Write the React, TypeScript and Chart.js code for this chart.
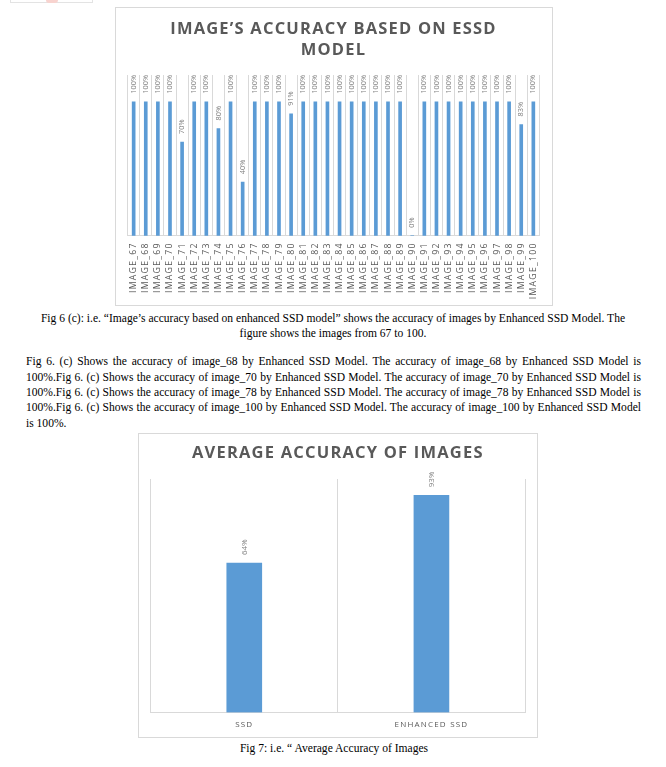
import React, { useEffect, useRef } from "react";
import { Chart, registerables } from "chart.js";

Chart.register(...registerables);

// ---------- DATA ----------
const imageLabels = [
  "IMAGE_67", "IMAGE_68", "IMAGE_69", "IMAGE_70", "IMAGE_71", "IMAGE_72", "IMAGE_73",
  "IMAGE_74", "IMAGE_75", "IMAGE_76", "IMAGE_77", "IMAGE_78", "IMAGE_79", "IMAGE_80",
  "IMAGE_81", "IMAGE_82", "IMAGE_83", "IMAGE_84", "IMAGE_85", "IMAGE_86", "IMAGE_87",
  "IMAGE_88", "IMAGE_89", "IMAGE_90", "IMAGE_91", "IMAGE_92", "IMAGE_93", "IMAGE_94",
  "IMAGE_95", "IMAGE_96", "IMAGE_97", "IMAGE_98", "IMAGE_99", "IMAGE_100",
];
const essdAccuracy = [
  1, 1, 1, 1, 0.7, 1, 1,
  0.8, 1, 0.4, 1, 1, 1, 0.91,
  1, 1, 1, 1, 1, 1, 1,
  1, 1, 0, 1, 1, 1, 1,
  1, 1, 1, 1, 0.83, 1,
];
const chart1Title = ["IMAGE\u2019S ACCURACY BASED ON ESSD", "MODEL"];

const avgLabels = ["SSD", "ENHANCED SSD"];
const avgAccuracy = [0.64, 0.93];
const chart2Title = "AVERAGE ACCURACY OF IMAGES";

const caption1 = [
  "Fig 6 (c): i.e. \u201CImage\u2019s accuracy based on enhanced SSD model\u201D shows the accuracy of images by Enhanced SSD Model. The",
  "figure shows the images from 67 to 100.",
];
const paragraphLines = [
  "Fig 6. (c) Shows the accuracy of image_68 by Enhanced SSD Model. The accuracy of image_68 by Enhanced SSD Model is",
  "100%.Fig 6. (c) Shows the accuracy of image_70 by Enhanced SSD Model. The accuracy of image_70 by Enhanced SSD Model is",
  "100%.Fig 6. (c) Shows the accuracy of image_78 by Enhanced SSD Model. The accuracy of image_78 by Enhanced SSD Model is",
  "100%.Fig 6. (c) Shows the accuracy of image_100 by Enhanced SSD Model. The accuracy of image_100 by Enhanced SSD Model",
  "is 100%.",
];
const caption2 = "Fig 7: i.e. \u201C Average Accuracy of Images";

// ---------- STYLE ----------
const BAR = "#5b9bd5";
const GRID = "#d9d9d9";
const TEXT = "#595959";
const LABEL = "#808080";
const SQUEEZE = 0.963;

function spacingPlugin(spacing: string) {
  return {
    id: "spacing",
    beforeUpdate(chart: any) {
      chart.ctx.letterSpacing = spacing;
    },
    beforeDraw(chart: any) {
      chart.ctx.letterSpacing = spacing;
    },
  };
}

function valueLabelPlugin(fontSize: number, gap: number) {
  return {
    id: "valueLabels",
    afterDatasetsDraw(chart: any) {
      const ctx = chart.ctx;
      const meta = chart.getDatasetMeta(0);
      const data = chart.data.datasets[0].data;
      ctx.save();
      ctx.letterSpacing = "0px";
      ctx.font = `${fontSize}px "Open Sans"`;
      ctx.fillStyle = LABEL;
      ctx.textAlign = "left";
      ctx.textBaseline = "middle";
      meta.data.forEach((bar: any, i: number) => {
        const txt = Math.round(data[i] * 100) + "%";
        ctx.save();
        ctx.translate(bar.x, bar.y - gap);
        ctx.rotate(-Math.PI / 2);
        ctx.fillText(txt, 0, 0);
        ctx.restore();
      });
      ctx.restore();
    },
  };
}

function ChartOne() {
  const ref = useRef<HTMLCanvasElement>(null);
  useEffect(() => {
    const chart = new Chart(ref.current!, {
      type: "bar",
      data: {
        labels: imageLabels,
        datasets: [{ data: essdAccuracy, backgroundColor: BAR, barThickness: 3 }],
      },
      options: {
        animation: false,
        responsive: false,
        devicePixelRatio: 1,
        layout: { padding: { left: 11.6, right: 12.6, top: 0, bottom: 0 } },
        plugins: {
          legend: { display: false },
          tooltip: { enabled: false },
          title: {
            display: true,
            text: chart1Title,
            color: TEXT,
            font: { family: "Open Sans", size: 16.5, weight: "bold", lineHeight: 1.315 },
            padding: { top: 10.15, bottom: 13.45 },
          },
        },
        scales: {
          x: {
            grid: { color: GRID, drawTicks: false, offset: true },
            border: { color: GRID },
            ticks: {
              color: TEXT,
              font: { family: "Open Sans", size: 8.8 },
              minRotation: 90,
              maxRotation: 90,
              autoSkip: false,
              padding: 6.5,
            },
            afterFit: (s: any) => {
              s.height = 69.3;
            },
          },
          y: { display: false, min: 0, max: 1.2 },
        },
      },
      plugins: [spacingPlugin("1.2px"), valueLabelPlugin(7.4, 8)],
    } as any);
    return () => chart.destroy();
  }, []);
  return <canvas ref={ref} width={436} height={297} style={{ display: "block" }} />;
}

function ChartTwo() {
  const ref = useRef<HTMLCanvasElement>(null);
  useEffect(() => {
    const chart = new Chart(ref.current!, {
      type: "bar",
      data: {
        labels: avgLabels,
        datasets: [{ data: avgAccuracy, backgroundColor: BAR, barThickness: 35 }],
      },
      options: {
        animation: false,
        responsive: false,
        devicePixelRatio: 1,
        layout: { padding: { left: 11.7, right: 12, top: 0, bottom: 0 } },
        plugins: {
          legend: { display: false },
          tooltip: { enabled: false },
          title: {
            display: true,
            text: chart2Title,
            color: TEXT,
            font: { family: "Open Sans", size: 16.5, weight: "bold", lineHeight: 1.1 },
            padding: { top: 10.3, bottom: 16.55 },
          },
        },
        scales: {
          x: {
            grid: { color: GRID, drawTicks: false, offset: true },
            border: { color: GRID },
            ticks: {
              color: TEXT,
              font: { family: "Open Sans", size: 8 },
              maxRotation: 0,
              autoSkip: false,
              padding: 7.7,
            },
            afterFit: (s: any) => {
              s.height = 24.5;
            },
          },
          y: { display: false, min: 0, max: 1 },
        },
      },
      plugins: [spacingPlugin("1.2px"), valueLabelPlugin(8, 8)],
    } as any);
    return () => chart.destroy();
  }, []);
  return <canvas ref={ref} width={398} height={303} style={{ display: "block" }} />;
}

const serif: React.CSSProperties = {
  fontFamily: '"Liberation Serif", "Times New Roman", serif',
  fontSize: 12,
  color: "#000",
};

export default function App() {
  return (
    <div
      style={{
        position: "absolute",
        left: 0,
        top: 0,
        width: 666,
        height: 767,
        background: "#fff",
        overflow: "hidden",
        ...serif,
      }}
    >
      {/* fragment of previous figure */}
      <div
        style={{
          position: "absolute",
          left: 10,
          top: -2,
          width: 83,
          height: 5,
          border: "1px solid #e3e3e3",
          borderTop: "none",
          boxSizing: "border-box",
        }}
      />
      <div
        style={{
          position: "absolute",
          left: 46,
          top: 0,
          width: 12,
          height: 3,
          background: "#f8d3cf",
          borderRadius: "0 0 6px 6px",
        }}
      />

      {/* Chart 1 */}
      <div
        style={{
          position: "absolute",
          left: 115,
          top: 7,
          width: 438,
          height: 299,
          border: "1px solid #d9d9d9",
          boxSizing: "border-box",
        }}
      >
        <ChartOne />
      </div>

      {/* Caption 1 */}
      <div
        style={{
          position: "absolute",
          left: 0,
          top: 310.5,
          width: 666 / SQUEEZE,
          textAlign: "center",
          lineHeight: "15px",
          transform: `scaleX(${SQUEEZE})`,
          transformOrigin: "0 0",
        }}
      >
        {caption1.map((l, i) => (
          <div key={i} style={{ whiteSpace: "nowrap" }}>{l}</div>
        ))}
      </div>

      {/* Paragraph */}
      <div
        style={{
          position: "absolute",
          left: 26,
          top: 354.4,
          width: 615 / SQUEEZE,
          lineHeight: "15.3px",
          transform: `scaleX(${SQUEEZE})`,
          transformOrigin: "0 0",
        }}
      >
        {paragraphLines.map((l, i) => (
          <div
            key={i}
            style={{
              textAlign: "justify",
              textAlignLast: i < paragraphLines.length - 1 ? "justify" : "left",
            }}
          >
            {l}
          </div>
        ))}
      </div>

      {/* Chart 2 */}
      <div
        style={{
          position: "absolute",
          left: 138,
          top: 433,
          width: 400,
          height: 305,
          border: "1px solid #d9d9d9",
          boxSizing: "border-box",
        }}
      >
        <ChartTwo />
      </div>

      {/* Caption 2 */}
      <div
        style={{
          position: "absolute",
          left: 0,
          top: 740.5,
          width: 668 / SQUEEZE,
          textAlign: "center",
          lineHeight: "15px",
          whiteSpace: "nowrap",
          transform: `scaleX(${SQUEEZE})`,
          transformOrigin: "0 0",
        }}
      >
        {caption2}
      </div>
    </div>
  );
}
